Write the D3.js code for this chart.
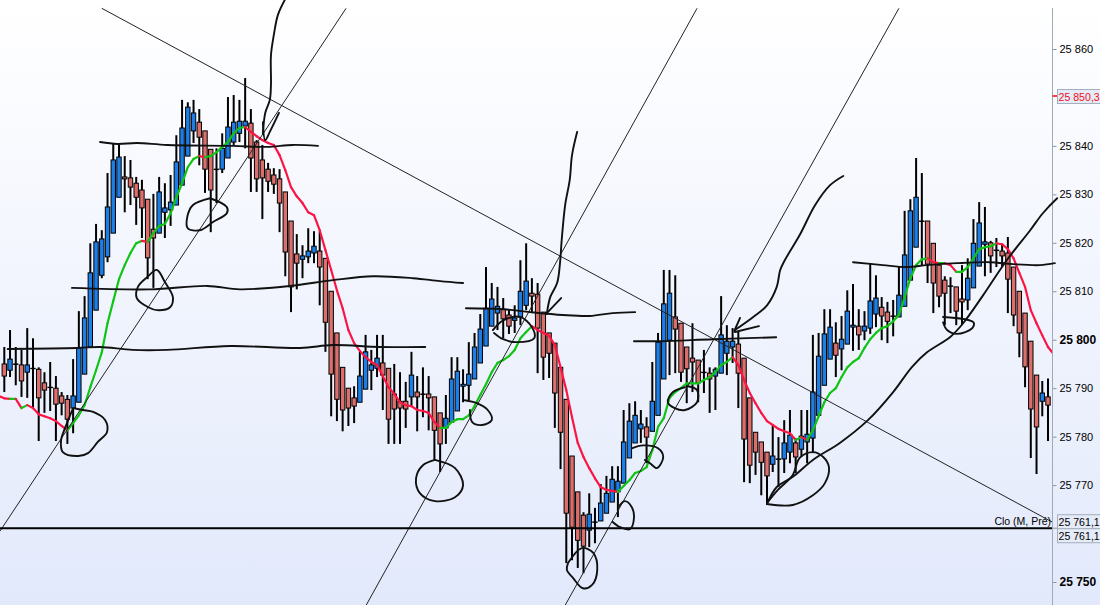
<!DOCTYPE html>
<html><head><meta charset="utf-8">
<script src="https://cdn.jsdelivr.net/npm/d3@7/dist/d3.min.js"></script>
<style>html,body{margin:0;padding:0;background:#fff;overflow:hidden}svg{display:block}text{font-family:"Liberation Sans",Arial,sans-serif}</style>
</head><body><svg id="c" width="1100" height="605"></svg>
<script>
// Prices are written as points above priceBase
const priceBase = 25000;
const opens = [795.0,793.7,795.0,794.8,793.3,794.1,793.9,791.1,790.2,790.0,788.4,787.7,785.9,787.1,792.9,798.5,806.1,813.3,817.1,822.0,829.4,833.6,833.4,832.3,830.9,829.0,822.8,822.0,826.3,826.8,827.8,831.9,837.9,843.1,844.9,843.1,839.3,835.2,835.2,837.5,840.8,842.6,844.1,844.7,840.8,837.1,835.2,834.0,833.2,830.5,824.5,817.7,816.6,817.1,817.9,818.3,816.8,810.0,801.4,794.3,790.0,788.0,787.1,789.8,793.7,794.1,795.2,794.1,788.8,787.3,787.3,788.2,789.2,788.8,788.8,788.2,784.9,781.8,783.0,785.3,790.4,790.6,791.9,795.2,798.7,802.8,805.5,806.3,805.1,804.0,804.7,807.1,809.6,809.4,805.7,801.4,799.3,794.3,787.7,776.0,768.6,763.8,760.7,762.4,762.6,764.2,766.5,768.6,770.4,775.6,778.7,781.6,782.0,781.1,784.4,791.9,799.9,804.7,803.4,798.5,796.2,795.8,793.3,793.1,792.5,793.1,797.2,798.5,799.1,796.2,788.0,780.9,778.9,776.8,774.3,775.4,775.4,776.8,778.7,777.4,778.9,779.7,784.4,790.6,796.0,799.3,798.1,799.1,802.6,802.8,801.8,802.4,805.3,806.7,805.7,804.9,804.7,806.9,812.3,819.1,824.5,824.5,819.9,815.4,812.3,811.1,810.9,808.4,808.2,810.7,815.2,819.7,820.0,818.5,818.3,817.9,815.0,810.0,805.5,799.7,792.7,787.3,788.2];
const highs = [798.5,802.0,798.5,797.9,802.4,800.3,794.3,793.3,795.4,792.5,789.2,788.6,796.0,805.9,809.0,819.9,823.9,822.6,834.4,840.6,840.6,837.9,837.1,833.6,833.0,829.0,830.1,833.6,832.3,834.0,842.2,849.5,849.0,849.5,847.6,843.1,839.3,839.5,842.6,850.1,850.5,849.5,854.0,847.6,841.2,840.2,836.5,835.4,835.2,830.5,824.5,821.8,819.5,823.0,822.4,822.4,816.8,810.0,801.4,794.3,790.0,790.4,797.5,801.0,797.9,801.0,801.0,794.1,795.0,793.3,791.3,797.5,792.5,794.3,792.5,788.2,784.9,788.6,796.4,796.4,793.9,799.5,801.4,805.3,815.0,811.7,810.9,808.6,806.3,807.1,816.4,819.9,812.7,811.7,805.7,801.4,799.3,794.3,787.7,776.0,768.6,764.4,768.3,765.3,770.2,771.9,773.9,773.9,785.5,786.9,787.3,785.5,784.0,795.4,801.4,814.4,814.4,813.3,803.4,798.5,803.4,795.8,797.9,794.3,794.3,809.0,803.0,802.4,801.6,796.2,788.0,780.9,778.9,776.8,782.2,779.9,783.4,785.5,779.7,785.5,785.5,801.0,801.4,806.3,806.3,803.6,804.9,810.2,811.5,806.3,805.9,815.8,813.3,808.8,807.8,808.2,815.2,826.6,829.0,837.5,834.4,824.5,819.9,815.4,813.1,812.9,810.9,815.4,816.8,824.9,828.4,827.4,820.4,821.0,819.9,821.2,815.0,810.0,805.5,799.7,792.7,791.5,792.0];
const lows = [789.2,792.3,790.6,788.2,788.0,786.1,779.1,784.9,785.3,779.1,784.4,778.5,780.7,787.1,792.9,798.5,806.1,812.7,816.0,822.0,829.4,826.3,827.8,823.7,821.0,812.5,810.7,822.0,821.0,823.5,827.8,831.9,837.9,840.6,836.0,830.3,822.2,828.2,834.4,837.5,840.2,840.8,839.5,830.5,830.5,824.9,830.5,830.1,822.2,813.1,805.7,810.4,812.7,815.8,815.8,807.1,797.5,784.2,783.2,781.1,782.2,782.8,787.1,789.8,789.6,792.3,785.5,778.5,778.5,778.5,781.8,786.1,781.1,784.0,781.3,775.2,772.7,778.5,783.0,785.3,787.1,787.5,791.9,795.2,798.7,802.8,802.0,800.3,801.2,801.4,803.0,806.1,805.5,793.1,791.7,792.1,781.8,773.3,753.9,754.5,752.9,751.8,757.2,758.0,762.6,764.2,766.5,763.4,770.4,775.6,778.7,778.7,774.5,781.1,784.4,791.9,792.7,793.1,791.3,786.9,789.2,787.1,789.0,784.9,785.5,793.1,792.7,795.2,785.9,770.6,770.4,772.1,767.9,765.9,772.7,769.6,772.5,774.5,772.5,775.8,774.5,776.6,784.4,790.6,796.0,792.3,793.7,799.1,797.7,797.9,799.9,801.2,802.6,799.9,799.3,800.7,804.7,806.9,812.3,819.1,815.4,811.7,805.5,806.7,803.0,805.5,803.0,803.0,806.1,810.7,815.2,813.1,813.8,815.0,815.0,805.5,802.8,796.4,790.2,775.6,772.3,784.2,779.1];
const closes = [792.5,796.0,795.0,791.5,794.8,794.1,788.0,789.6,790.2,786.7,786.9,783.6,788.4,798.3,804.5,813.8,820.2,820.8,827.4,837.1,837.7,833.2,831.5,829.4,827.2,816.9,821.0,830.5,827.2,828.4,836.7,843.7,848.0,846.8,841.8,835.2,830.9,835.2,839.5,843.9,844.9,845.1,845.1,837.5,833.2,833.4,832.7,832.1,828.2,818.1,810.9,815.8,817.3,818.3,819.3,815.0,803.6,792.9,787.7,785.5,785.9,786.3,792.5,797.5,794.8,796.2,792.7,783.6,785.7,785.9,785.7,792.7,788.2,788.8,788.0,781.3,778.5,783.8,791.9,793.5,790.8,792.9,798.5,802.2,806.5,808.4,806.9,804.3,802.8,804.5,810.0,812.1,809.0,802.4,796.4,797.2,789.0,780.9,764.2,761.3,758.6,757.4,764.0,762.4,766.3,768.3,771.2,770.8,778.9,783.2,784.4,782.6,779.9,787.3,799.5,807.4,809.6,802.2,793.3,794.0,795.4,791.1,793.3,791.9,793.9,801.0,799.7,799.7,793.1,779.5,774.1,776.8,774.7,771.9,776.0,775.4,778.7,780.3,775.8,780.1,780.5,789.2,796.6,801.2,802.6,796.8,800.1,805.9,803.0,801.0,802.8,808.0,808.6,804.9,803.8,804.9,809.2,817.5,826.6,829.4,824.5,815.6,811.7,809.0,809.6,811.1,805.9,807.8,812.7,819.9,824.1,820.2,817.3,818.5,817.3,812.5,805.1,801.4,794.4,785.7,782.0,789.0,786.5];
// smoothed moving average: one value per bar, starting one bar before the first and ending one after the last
const maValues = [788.4,787.9,787.8,787.8,785.9,786.5,785.9,784.6,784.2,783.8,783.2,782.2,781.3,782.8,784.4,786.5,790.2,793.7,797.4,803.4,808.0,812.5,815.4,817.9,819.9,820.4,820.2,822.0,823.5,823.9,826.1,829.4,832.3,835.6,837.3,837.9,837.7,837.9,838.7,839.8,840.8,842.6,843.7,843.9,842.9,842.0,841.2,840.6,840.2,838.1,835.0,831.5,829.6,828.2,826.3,825.7,822.6,818.5,814.4,810.2,806.5,802.0,799.3,797.7,796.4,795.4,794.8,792.5,790.2,788.8,787.1,786.5,786.3,785.5,785.3,784.9,783.0,781.8,781.8,783.0,783.6,783.6,784.4,786.3,788.6,790.8,793.3,795.2,795.8,796.6,797.9,800.3,801.6,802.8,802.0,801.4,800.8,798.9,794.3,789.6,784.0,778.7,775.8,773.5,771.4,769.6,769.0,768.8,768.6,769.8,771.0,772.5,772.9,773.7,777.2,782.0,783.8,788.0,789.2,790.0,791.0,791.0,791.0,791.7,792.3,793.3,794.8,795.4,796.4,794.8,791.7,789.0,786.9,784.9,783.2,782.4,781.6,781.1,780.7,779.3,779.9,779.3,781.3,784.2,787.1,789.0,790.0,792.3,794.3,795.4,796.2,798.3,800.1,801.4,802.4,802.8,803.8,805.1,808.8,812.7,815.4,816.6,816.8,816.0,815.8,815.8,815.4,814.0,814.0,815.0,816.8,818.7,819.1,819.3,819.9,819.7,818.7,816.8,813.8,810.9,806.1,803.4,800.9,798.5,797.0];
const tickPrices = [25860,25850,25840,25830,25820,25810,25800,25790,25780,25770,25750];
const majorTickPrices = [25800,25750];
const lastPrice = 25761.1;
const highlightPrice = 25850.3;
const priceLineLabel = "Clo (M, Pré)";
// straight trend lines: [bar, points], [bar, points]
const trendLines = [
 [[17.0,868.4],[182.7,762.4]],
 [[-0.75,760.5],[59.6,868.4]],
 [[63.1,745.2],[120.8,868.4]],
 [[97.8,745.2],[156.0,868.4]]
];
// freehand ink: lists of [bar, points]
const inkStrokes = [
 [[45.1,842.6],[45.5,846.8],[46.3,849.5],[46.5,852.6],[46.5,858.7],[47.0,862.9],[47.7,867.0],[48.9,870.1]],
 [[45.1,844.9],[45.5,841.2],[46.3,842.9],[47.9,846.8]],
 [[16.7,840.8],[19.7,840.4],[23.1,840.6],[28.4,840.2],[39.9,840.0],[45.8,839.8],[50.3,840.2],[54.7,840.0]],
 [[11.8,810.7],[25.4,810.4],[35.4,811.1],[41.1,810.4],[49.8,811.1],[57.3,812.3],[64.3,813.1],[71.3,812.7],[76.0,812.1],[80.0,811.7]],
 [[0.6,798.1],[12.7,798.3],[16.7,798.5],[22.4,797.9],[28.4,797.9],[39.4,798.7],[51.6,798.3],[57.3,798.9],[65.5,798.5],[73.4,798.5]],
 [[12.0,785.9],[13.7,785.5],[15.5,785.1],[17.6,783.4],[17.9,780.9],[16.3,778.9],[14.6,776.6],[12.9,776.0],[10.2,776.8],[9.9,779.3],[10.6,781.8],[12.0,785.9]],
 [[25.1,806.7],[26.6,806.1],[28.9,806.7],[29.4,808.8],[28.0,811.9],[26.6,814.4],[24.9,812.9],[23.3,810.9],[23.1,808.6],[25.1,806.7]],
 [[35.9,829.2],[38.8,827.4],[38.8,826.1],[36.4,824.3],[34.1,822.6],[32.0,823.0],[31.9,825.3],[32.9,827.8],[35.9,829.2]],
 [[75.1,775.2],[78.6,773.5],[80.0,770.0],[78.6,767.5],[75.1,766.7],[72.5,768.3],[71.8,771.4],[73.0,774.1],[75.1,775.2]],
 [[80.3,787.5],[82.4,786.9],[84.3,785.5],[85.0,783.4],[83.3,782.4],[81.6,783.0],[81.2,785.5]],
 [[80.5,806.5],[87.0,806.3],[91.7,805.7],[97.4,805.1],[102.1,804.9],[106.1,805.5],[110.0,805.7]],
 [[85.2,802.0],[87.0,804.0],[89.9,804.7],[92.0,802.6],[92.4,800.3],[89.4,799.5],[87.0,800.1],[85.4,801.4]],
 [[94.6,805.3],[95.2,808.8],[96.4,811.7],[96.9,815.8],[97.2,820.6],[97.8,827.8],[98.6,833.0],[99.0,838.1],[99.9,842.9]],
 [[97.1,808.6],[94.6,805.5]],
 [[98.3,753.9],[100.7,757.0],[102.7,756.0],[103.4,752.5],[102.5,749.4],[100.9,748.7],[99.2,750.8],[98.1,752.5],[98.3,753.9]],
 [[107.0,765.3],[108.2,766.7],[109.4,765.5],[109.8,763.2],[109.1,760.9],[107.4,761.3],[106.1,762.4]],
 [[109.4,777.6],[111.4,778.2],[114.0,777.6],[114.9,775.8],[113.8,773.5],[112.6,774.5],[111.7,775.2]],
 [[118.7,790.2],[116.6,789.2],[115.7,787.1],[116.9,785.9],[118.7,785.5],[120.8,787.1],[120.8,789.6],[119.2,790.4]],
 [[109.8,799.7],[114.4,799.7],[123.6,800.1],[134.6,800.5]],
 [[127.4,802.0],[130.6,804.7],[133.0,807.1],[134.7,810.9],[135.3,814.4],[136.1,816.4],[138.7,821.6],[141.4,827.8],[144.0,831.9],[146.3,833.8]],
 [[127.3,801.8],[128.3,804.5]],
 [[127.4,801.6],[131.6,802.8]],
 [[133.0,766.1],[134.7,769.6],[137.5,771.7],[141.0,775.2],[145.7,778.7],[150.6,783.4],[155.0,789.2],[158.3,794.4],[160.9,797.4],[164.9,800.5],[167.2,803.4],[170.7,809.2],[174.8,816.4],[178.9,822.6],[181.1,826.1],[183.6,829.2]],
 [[133.0,766.1],[137.5,765.9],[141.0,767.9],[143.1,770.4],[143.8,773.7],[142.8,775.8],[141.0,776.8],[138.7,775.6],[137.5,772.1],[134.9,769.0],[133.0,766.3]],
 [[148.0,816.0],[153.2,815.4],[157.4,815.0],[160.9,815.4],[166.1,815.8],[171.9,816.0],[175.9,815.6],[180.6,815.4],[183.2,815.8]],
 [[163.7,804.7],[169.0,803.6],[168.8,802.4],[166.1,801.2],[164.4,802.0],[163.7,803.6]]
];

const W = 1100, H = 605, axisX = 1052.5;
const x = d3.scaleLinear().domain([0, 182]).range([4.3, 1048]);
const y = d3.scaleLinear().domain([25750, 25860]).range([582, 49]);
const yp = v => y(priceBase + v);
const bars = opens.map((o, i) => ({i, o, h: highs[i], l: lows[i], c: closes[i]}));

const svg = d3.select("#c");
const defs = svg.append("defs");
const g = defs.append("linearGradient").attr("id", "bg").attr("x1", 0).attr("x2", 0).attr("y1", 0).attr("y2", 1);
g.append("stop").attr("offset", "0").attr("stop-color", "#ffffff");
g.append("stop").attr("offset", "0.15").attr("stop-color", "#fbfcff");
g.append("stop").attr("offset", "1").attr("stop-color", "#e2e9fb");
defs.append("clipPath").attr("id", "plot").append("rect").attr("width", axisX).attr("height", H);
svg.append("rect").attr("width", W).attr("height", H).attr("fill", "url(#bg)");

const plot = svg.append("g").attr("clip-path", "url(#plot)");
// wicks
plot.append("g").selectAll("line").data(bars).join("line")
  .attr("x1", d => x(d.i)).attr("x2", d => x(d.i))
  .attr("y1", d => yp(d.h)).attr("y2", d => yp(d.l))
  .attr("stroke", "#000").attr("stroke-width", 2);
// bodies
plot.append("g").selectAll("rect").data(bars).join("rect")
  .attr("x", d => x(d.i) - 2.2).attr("width", 4.4)
  .attr("y", d => yp(Math.max(d.o, d.c)))
  .attr("height", d => Math.max(0.4, Math.abs(yp(d.o) - yp(d.c))))
  .attr("fill", d => d.c > d.o ? "#1c7ee8" : d.c < d.o ? "#dc6e6c" : "#000")
  .attr("stroke", "#000").attr("stroke-width", 1);
// moving average, coloured by direction
const maLine = d3.line().x(d => x(d[0])).y(d => yp(d[1]));
const segs = d3.pairs(maValues.map((v, i) => [i - 1, v]));
plot.append("g").attr("fill", "none").attr("stroke-width", 2.2).attr("stroke-linecap", "round")
  .selectAll("path").data(segs).join("path")
  .attr("d", d => maLine(d))
  .attr("stroke", d => d[1][1] >= d[0][1] ? "#10c414" : "#fb1545");
// trend lines
plot.append("g").selectAll("path").data(trendLines).join("path")
  .attr("d", d => maLine(d)).attr("fill", "none").attr("stroke", "#222").attr("stroke-width", 1);
// last-price line
plot.append("line").attr("x1", 0).attr("x2", axisX).attr("y1", y(lastPrice)).attr("y2", y(lastPrice))
  .attr("stroke", "#000").attr("stroke-width", 2);

// axis
const loc = d3.formatLocale({decimal: ",", thousands: " ", grouping: [3], currency: ["", ""]});
const f0 = loc.format(",.0f"), f1 = loc.format(",.1f");
const axis = d3.axisRight(y).tickValues(tickPrices).tickSize(4).tickPadding(3).tickFormat(f0);
const ag = svg.append("g").attr("transform", `translate(${axisX},0)`).call(axis);
ag.select(".domain").remove();
ag.selectAll(".tick line").attr("stroke", "#8a96a4");
ag.selectAll(".tick text").attr("font-size", d => majorTickPrices.includes(d) ? 12 : 11)
  .attr("font-weight", d => majorTickPrices.includes(d) ? "bold" : "normal")
  .attr("fill", "#000").style("font-family", '"Liberation Sans",Arial,sans-serif');
ag.selectAll(".tick").filter(d => d === 25850).remove();
svg.append("line").attr("x1", axisX).attr("x2", axisX).attr("y1", 8).attr("y2", H)
  .attr("stroke", "#a0aab4").attr("stroke-width", 1);

function priceBox(cy, label, color) {
  const h = 14;
  svg.append("rect").attr("x", 1057.5).attr("y", cy - h / 2 + 0.5).attr("width", 50).attr("height", h)
    .attr("fill", "#e6ebf8").attr("stroke", "#a4aebc");
  svg.append("text").attr("x", 1058.5).attr("y", cy + 4.5).attr("font-size", 10.6).attr("fill", color).text(label);
}
svg.append("line").attr("x1", axisX).attr("x2", 1058).attr("y1", y(highlightPrice)).attr("y2", y(highlightPrice))
  .attr("stroke", "#f00").attr("stroke-width", 1.5);
priceBox(y(highlightPrice), f1(highlightPrice), "#f01020");
svg.append("line").attr("x1", axisX).attr("x2", 1058).attr("y1", y(lastPrice)).attr("y2", y(lastPrice)).attr("stroke", "#8a96a4");
priceBox(y(lastPrice) - 7, f1(lastPrice), "#000");
priceBox(y(lastPrice) + 7, f1(lastPrice), "#000");
svg.append("text").attr("x", 1051).attr("y", y(lastPrice) - 3.5).attr("text-anchor", "end")
  .attr("font-size", 10.5).attr("fill", "#000").text(priceLineLabel);

// ink sits on top of everything and may run over the axis
const ink = d3.line().x(d => x(d[0])).y(d => yp(d[1])).curve(d3.curveCatmullRom);
svg.append("g").selectAll("path").data(inkStrokes).join("path")
  .attr("d", d => ink(d)).attr("fill", "none").attr("stroke", "#111")
  .attr("stroke-width", 1.9).attr("stroke-linecap", "round").attr("stroke-linejoin", "round");
</script></body></html>
